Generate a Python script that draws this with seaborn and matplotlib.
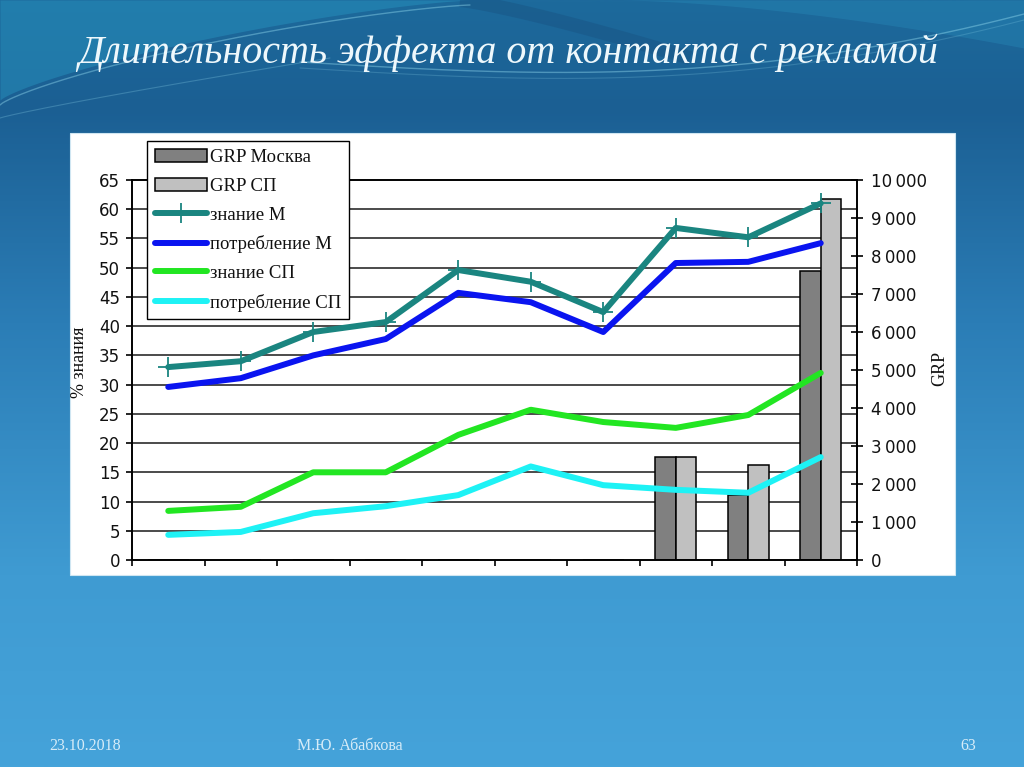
import numpy as np
import pandas as pd
import matplotlib
matplotlib.use("Agg")
import matplotlib.pyplot as plt
import seaborn as sns
from matplotlib.patches import Rectangle
from matplotlib.colors import LinearSegmentedColormap
from matplotlib.ticker import FuncFormatter

# ---------------- data ----------------
periods = ["1", "2", "3", "4", "5", "6", "7", "8", "9", "10"]
grp_moscow = [0, 0, 0, 0, 0, 0, 0, 2700, 1700, 7600]
grp_sp = [0, 0, 0, 0, 0, 0, 0, 2700, 2500, 9500]
aware_m = [33, 34, 39, 40.7, 49.6, 47.6, 42.4, 56.8, 55.2, 61]
consume_m = [29.6, 31.1, 35, 37.8, 45.7, 44.1, 39, 50.8, 51, 54.2]
aware_sp = [8.4, 9.1, 15, 15, 21.4, 25.7, 23.6, 22.6, 24.8, 32]
consume_sp = [4.3, 4.8, 8, 9.2, 11.1, 16, 12.8, 12, 11.5, 17.6]
bar_labels = ["GRP Москва", "GRP СП"]
line_labels = ["знание М", "потребление М", "знание СП", "потребление СП"]
left_ticks = list(range(0, 66, 5))
right_ticks = list(range(0, 10001, 1000))
title = "Длительность эффекта от контакта с рекламой"
footer_date = "23.10.2018"
footer_author = "М.Ю. Абабкова"
footer_page = "63"

# ---------------- style ----------------
sns.set_theme(style="white")
plt.rcParams["font.family"] = ["DejaVu Sans"]
SERIF = ["Liberation Serif", "DejaVu Serif"]

W, H = 1024, 767
fig = plt.figure(figsize=(W / 100, H / 100), dpi=100)

# ---------------- slide background ----------------
bg = fig.add_axes([0, 0, 1, 1], zorder=-10)
bg.set_xlim(0, W)
bg.set_ylim(H, 0)
bg.axis("off")
cmap = LinearSegmentedColormap.from_list(
    "slide", [(0, "#1d6a9c"), (0.14, "#1b5f93"), (0.42, "#2b7db6"),
              (0.75, "#3f9bd2"), (1, "#45a3da")])
grad = np.linspace(0, 1, 512)[:, None]
bg.imshow(grad, cmap=cmap, extent=[0, W, H, 0], aspect="auto", zorder=0)
# left light swoosh
xs = np.linspace(0, 470, 200)
ys = 100 * (1 - (xs / 470) ** 0.8) ** 1.3
bg.fill_between(xs, 0, ys, color="#2791bd", alpha=0.5, lw=0, zorder=1)
bg.plot(xs, ys + 5, color="#9be3f5", alpha=0.4, lw=1.0, zorder=2)
xs2 = np.linspace(0, 330, 150)
bg.plot(xs2, 118 - 60 * (xs2 / 330) ** 0.9, color="#9be3f5", alpha=0.25, lw=0.8, zorder=2)
# right swoosh
xr = np.linspace(300, W, 300)
yr = 62 + 14 * np.sin((xr - 300) / 724 * np.pi) - 48 * ((xr - 300) / 724) ** 3
bg.plot(xr, yr, color="#9be3f5", alpha=0.4, lw=1.0, zorder=2)
bg.plot(xr, yr + 6, color="#9be3f5", alpha=0.2, lw=0.8, zorder=2)
xt = np.linspace(620, W, 200)
yt = 48 * ((xt - 620) / 404) ** 1.6
bg.fill_between(xt, 0, np.minimum(yt, 48), color="#2a8fbd", alpha=0.35, lw=0, zorder=1)
xd = np.linspace(460, 690, 100)
yd = 58 * ((xd - 460) / 230) ** 1.2
bg.plot(xd, yd, color="#17507f", alpha=0.4, lw=10, zorder=1, solid_capstyle="butt")
# white chart area
bg.add_patch(Rectangle((70, 133), 885, 442, facecolor="white", edgecolor="#cfe6f2",
                       lw=0.8, zorder=3))

# ---------------- chart axes ----------------
ax = fig.add_axes([132 / W, 1 - 560 / H, 725 / W, 380 / H])
ax2 = ax.twinx()
ax.set_zorder(ax2.get_zorder() + 1)
ax.patch.set_visible(False)

bars_df = pd.DataFrame({
    "period": periods * 2,
    "grp": grp_moscow + grp_sp,
    "series": [bar_labels[0]] * len(periods) + [bar_labels[1]] * len(periods),
})
sns.barplot(data=bars_df, x="period", y="grp", hue="series", order=periods,
            hue_order=bar_labels, palette=["#808080", "#c0c0c0"], saturation=1,
            width=0.56, gap=0, edgecolor="black", linewidth=1.1, errorbar=None,
            ax=ax2, zorder=2)

xpos = np.arange(len(periods))
line_series = [aware_m, consume_m, aware_sp, consume_sp]
line_colors = ["#1a8580", "#0a14f0", "#22e622", "#1ef2f5"]
for vals, lab, col in zip(line_series, line_labels, line_colors):
    kw = dict(marker="+", markersize=14, markeredgewidth=1.3,
              markeredgecolor=col) if lab == "знание М" else {}
    sns.lineplot(x=xpos, y=vals, ax=ax, color=col, linewidth=4.3,
                 solid_joinstyle="round", solid_capstyle="round",
                 label=lab, zorder=4, **kw)

# axes limits / ticks
ax.set_xlim(-0.5, len(periods) - 0.5)
ax.set_ylim(0, 65)
ax2.set_ylim(0, 10000)
ax.set_xticks(np.arange(-0.5, len(periods), 1))
ax.set_xticklabels([])
ax.set_yticks(left_ticks)
ax.set_yticklabels([str(t) for t in left_ticks])
ax2.set_yticks(right_ticks)
ax2.yaxis.set_major_formatter(FuncFormatter(lambda v, p: f"{int(v):,}".replace(",", "\u2009")))
ax2.set_yticks([t * 10000 / 65 for t in left_ticks], minor=True)
ax.grid(False)
ax2.grid(False)
ax2.yaxis.grid(True, which="minor", color="#1a1a1a", linewidth=1.1)
ax2.tick_params(axis="y", which="minor", length=0)

ax.tick_params(axis="y", which="major", direction="out", length=4.5, width=1.2,
               color="black", labelsize=12, labelcolor="#111111", pad=4, left=True)
ax.tick_params(axis="x", which="major", direction="out", length=4.5, width=1.2,
               color="black", bottom=True)
ax2.tick_params(axis="y", which="major", direction="inout", length=8, width=1.2,
                color="black", labelsize=12, labelcolor="#111111", pad=6, right=True)

for a in (ax, ax2):
    for s in a.spines.values():
        s.set_color("black")
        s.set_linewidth(1.2)

ax.set_xlabel("")
ax2.set_xlabel("")
ax.set_ylabel("% знания", family=SERIF, fontsize=13, color="#111111")
ax.yaxis.set_label_coords(-0.061, 0.52)
ax2.set_ylabel("GRP", family=SERIF, fontsize=13, color="#111111", rotation=90)
ax2.yaxis.set_label_coords(1.102, 0.503)

# legend
bh, bl = ax2.get_legend_handles_labels()
lh, ll = ax.get_legend_handles_labels()
if ax2.get_legend() is not None:
    ax2.get_legend().remove()
leg = ax.legend(bh + lh, bl + ll, loc="upper left",
                bbox_to_anchor=(147 / W, 1 - 141 / H), bbox_transform=fig.transFigure,
                borderaxespad=0, frameon=True, fancybox=False, framealpha=1,
                edgecolor="black", facecolor="white",
                prop={"family": SERIF, "size": 13.5},
                handlelength=2.8, handletextpad=0.15, labelspacing=0.62,
                borderpad=0.42)
leg.get_frame().set_linewidth(1.0)
for t in leg.get_texts():
    t.set_color("#111111")

# ---------------- slide texts ----------------
fig.text(508 / W, 1 - 63 / H, title, ha="center", va="baseline",
         family=SERIF, style="italic", fontsize=28.8, color="#eef8fc")
fig.text(49 / W, 1 - 746 / H, footer_date, ha="left", va="center",
         family=SERIF, fontsize=11.5, color="#d6ecf8")
fig.text(297 / W, 1 - 746 / H, footer_author, ha="left", va="center",
         family=SERIF, fontsize=11.5, color="#d6ecf8")
fig.text(976 / W, 1 - 746 / H, footer_page, ha="right", va="center",
         family=SERIF, fontsize=11.5, color="#d6ecf8")

fig.savefig("out.png", dpi=100)
